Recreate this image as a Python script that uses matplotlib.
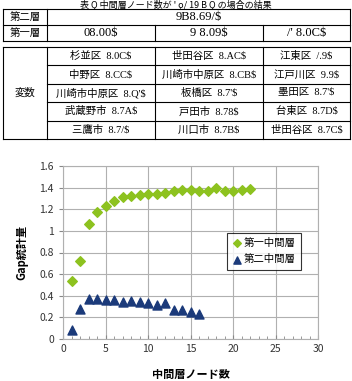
import matplotlib
matplotlib.use('Agg')
import matplotlib.pyplot as plt

plt.rcParams['font.family'] = ['Noto Sans CJK JP', 'DejaVu Sans']

# chart data
nodes1 = list(range(1, 23))
gap1 = [0.54, 0.72, 1.06, 1.17, 1.23, 1.28, 1.31, 1.32, 1.33, 1.34, 1.34,
        1.35, 1.37, 1.38, 1.38, 1.37, 1.37, 1.40, 1.37, 1.37, 1.38, 1.39]
nodes2 = list(range(1, 17))
gap2 = [0.08, 0.28, 0.37, 0.37, 0.36, 0.36, 0.34, 0.35, 0.34, 0.33, 0.31,
        0.33, 0.27, 0.27, 0.25, 0.23]
series_names = ['第一中間層', '第二中間層']

# table text (garbled as in the source)
title = '表 Q 中間層ノード数が \' ǫ/ 19 B Q の場合の結果'
row2_label = '第二層'
row2_value = '9B8.69/$'
row1_label = '第一層'
row1_values = ['08.00$', '9 8.09$', '/\' 8.0C$']
var_label = '変数'
var_cells = [
    ['杉並区  8.0C$', '世田谷区  8.AC$', '江東区  /.9$'],
    ['中野区  8.CC$', '川崎市中原区  8.CB$', '江戸川区  9.9$'],
    ['川崎市中原区  8.Q\'$', '板橋区  8.7\'$', '墨田区  8.7\'$'],
    ['武蔵野市  8.7A$', '戸田市  8.78$', '台東区  8.7D$'],
    ['三鷹市  8.7/$', '川口市  8.7B$', '世田谷区  8.7C$'],
]

W, H = 352, 381
fig = plt.figure(figsize=(W / 100, H / 100), dpi=100)

# ---- table drawn on an overlay axes in pixel units
tab = fig.add_axes([0, 0, 1, 1])
tab.set_xlim(0, W)
tab.set_ylim(H, 0)
tab.axis('off')

cell_font = ['Liberation Serif', 'Noto Sans CJK JP']
cols = [3, 47, 155, 263, 350]
lw = 0.8

tab.text(176, 4.5, title, ha='center', va='center', fontsize=6.5, color='black')

# block 1: two rows
b1 = [9, 25, 41]
for y in b1:
    tab.plot([cols[0], cols[-1]], [y, y], color='black', lw=lw)
tab.plot([cols[0], cols[0]], [b1[0], b1[-1]], color='black', lw=lw)
tab.plot([cols[-1], cols[-1]], [b1[0], b1[-1]], color='black', lw=lw)
tab.plot([cols[1], cols[1]], [b1[0], b1[-1]], color='black', lw=lw)
for c in (cols[2], cols[3]):
    tab.plot([c, c], [b1[1], b1[2]], color='black', lw=lw)
tab.text(25, (b1[0] + b1[1]) / 2, row2_label, ha='center', va='center', fontsize=7.5)
tab.text((cols[1] + cols[-1]) / 2, (b1[0] + b1[1]) / 2, row2_value,
         ha='center', va='center', fontsize=9, family=cell_font)
tab.text(25, (b1[1] + b1[2]) / 2, row1_label, ha='center', va='center', fontsize=7.5)
for i, v in enumerate(row1_values):
    tab.text((cols[i + 1] + cols[i + 2]) / 2, (b1[1] + b1[2]) / 2, v,
             ha='center', va='center', fontsize=9, family=cell_font)

# block 2: variables
top, bot = 47, 139
nrow = len(var_cells)
rh = (bot - top) / nrow
ys = [top + rh * k for k in range(nrow + 1)]
tab.plot([cols[0], cols[-1]], [top, top], color='black', lw=lw)
tab.plot([cols[0], cols[-1]], [bot, bot], color='black', lw=lw)
for y in ys[1:-1]:
    tab.plot([cols[1], cols[-1]], [y, y], color='black', lw=lw)
for c in cols:
    tab.plot([c, c], [top, bot], color='black', lw=lw)
tab.text(25, (top + bot) / 2, var_label, ha='center', va='center', fontsize=7.5)
for r, row in enumerate(var_cells):
    for i, v in enumerate(row):
        tab.text((cols[i + 1] + cols[i + 2]) / 2, ys[r] + rh / 2, v,
                 ha='center', va='center', fontsize=7.5, family=cell_font)

# ---- scatter chart
ax = fig.add_axes([63 / W, 1 - 339 / H, 255 / W, 173 / H])
ax.scatter(nodes1, gap1, marker='D', s=24, color='#8DC21F', label=series_names[0], zorder=3)
ax.scatter(nodes2, gap2, marker='^', s=42, color='#1B3A7A', label=series_names[1], zorder=3)
ax.set_xlim(0, 30)
ax.set_ylim(0, 1.6)
ax.set_xticks(range(0, 31, 5))
ax.set_xticks(range(0, 31), minor=True)
ax.set_yticks([0, 0.2, 0.4, 0.6, 0.8, 1.0, 1.2, 1.4, 1.6])
ax.set_yticklabels(['0', '0.2', '0.4', '0.6', '0.8', '1', '1.2', '1.4', '1.6'])
ax.grid(True, color='#b0b0b0', lw=0.8)
ax.set_axisbelow(True)
for s in ax.spines.values():
    s.set_color('#b0b0b0')
    s.set_linewidth(0.8)
ax.tick_params(axis='both', which='major', labelsize=7.5, colors='#333333',
               length=3, color='#888888')
ax.tick_params(axis='x', which='both', direction='in')
ax.tick_params(axis='x', which='minor', length=2, color='#888888')
ax.set_xlabel('中間層ノード数', fontsize=8, fontweight='bold', labelpad=10)
ax.set_ylabel('Gap統計量', fontsize=8, fontweight='bold', labelpad=8)
leg = ax.legend(loc='upper left', bbox_to_anchor=(0.643, 0.613), fontsize=7.5,
                frameon=True, fancybox=False, edgecolor='black', handletextpad=0.1,
                borderpad=0.5, labelspacing=0.6, handlelength=1.0, markerscale=0.8,
                borderaxespad=0)
leg.get_frame().set_linewidth(0.8)

fig.savefig('out.png', dpi=100)
